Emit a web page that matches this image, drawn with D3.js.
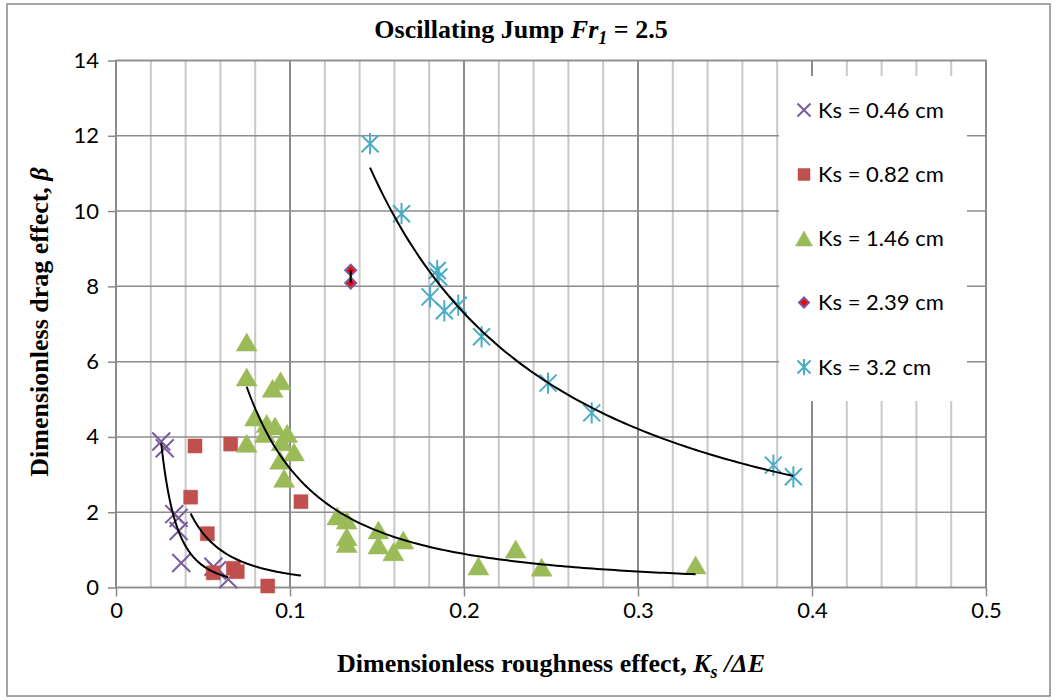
<!DOCTYPE html>
<meta charset="utf-8">
<html>
<head>
<title>Oscillating Jump</title>
<script src="https://d3js.org/d3.v7.min.js"></script>
<style>
  body {margin: 0; background: #fff;}
  .axis text {font-family: Lato, sans-serif; font-size: 22px; fill: #000;}
  .axis line {stroke: #888; stroke-width: 1.5px;}
  .ttl {font-family: "Liberation Serif", serif; font-weight: bold; fill: #000;}
  .leg {font-family: Lato, sans-serif; font-size: 22px; fill: #000;}
</style>
</head>
<body>
<svg id="chart" width="1057" height="700"></svg>
<script>
// tick labels
var xTicks = [0, 0.1, 0.2, 0.3, 0.4, 0.5];
var yTicks = [0, 2, 4, 6, 8, 10, 12, 14];

// Ks = 0.46 cm
var ks046X = [0.026, 0.028, 0.0335, 0.036, 0.036, 0.0375, 0.056, 0.058, 0.0645];
var ks046Y = [3.88, 3.70, 1.95, 1.85, 1.5, 0.65, 0.55, 0.45, 0.22];
// Ks = 0.82 cm
var ks082X = [0.0454, 0.0659, 0.0429, 0.0525, 0.0559, 0.0674, 0.0697, 0.0872, 0.1063];
var ks082Y = [3.76, 3.81, 2.40, 1.43, 0.39, 0.51, 0.42, 0.04, 2.28];
// Ks = 1.46 cm
var ks146X = [0.0751, 0.0751, 0.090, 0.0946, 0.0799, 0.0866, 0.0914, 0.0856, 0.0984, 0.0751, 0.0952, 0.1023, 0.0943, 0.0966,
              0.1272, 0.1326, 0.1326, 0.1326, 0.1508, 0.1508, 0.1594, 0.1651, 0.2083, 0.2297, 0.2446, 0.3331];
var ks146Y = [6.52, 5.59, 5.29, 5.49, 4.53, 4.36, 4.29, 4.09, 4.09, 3.83, 3.87, 3.60, 3.38, 2.90,
              1.90, 1.79, 1.35, 1.17, 1.53, 1.13, 0.95, 1.26, 0.57, 1.02, 0.54, 0.60];
// Ks = 2.39 cm
var ks239X = [0.1349, 0.1349];
var ks239Y = [8.43, 8.09];
// Ks = 3.2 cm
var ks320X = [0.146, 0.1641, 0.1846, 0.1855, 0.1805, 0.1887, 0.1967, 0.2101, 0.2483, 0.2734, 0.3778, 0.3893];
var ks320Y = [11.79, 9.93, 8.42, 8.25, 7.72, 7.35, 7.50, 6.66, 5.43, 4.64, 3.25, 2.94];

var legendLabels = ["Ks = 0.46 cm", "Ks = 0.82 cm", "Ks = 1.46 cm", "Ks = 2.39 cm", "Ks = 3.2 cm"];

var svg = d3.select("#chart"),
    margin = {top: 60.5, left: 116, right: 71, bottom: 112.5},
    width = 1057 - margin.left - margin.right,
    height = 700 - margin.top - margin.bottom;

var x = d3.scaleLinear().domain([0, 0.5]).range([0, width]),
    y = d3.scaleLinear().domain([0, 14]).range([height, 0]);

// chart frame
svg.append("rect")
    .attr("x", 7).attr("y", 4).attr("width", 1043).attr("height", 692)
    .attr("fill", "#fff").attr("stroke", "#888").attr("stroke-width", 1.5);

var g = svg.append("g")
    .attr("transform", "translate(" + margin.left + "," + margin.top + ")");

// grid
g.selectAll(".vminor").data(x.ticks(25))
  .enter().append("line")
    .attr("x1", x).attr("x2", x).attr("y1", 0).attr("y2", height)
    .attr("stroke", function(d) { return xTicks.indexOf(Math.round(d * 100) / 100) >= 0 ? "#8c8c8c" : "#c8c8c8"; })
    .attr("stroke-width", 2);

g.selectAll(".hgrid").data(yTicks)
  .enter().append("line")
    .attr("x1", 0).attr("x2", width).attr("y1", y).attr("y2", y)
    .attr("stroke", "#8c8c8c").attr("stroke-width", 1.5);

g.append("rect")
    .attr("width", width).attr("height", height)
    .attr("fill", "none").attr("stroke", "#8c8c8c").attr("stroke-width", 1.5);

// axes
g.append("g")
    .attr("class", "axis")
    .attr("transform", "translate(0," + height + ")")
    .call(d3.axisBottom(x).tickValues(xTicks).tickSize(9).tickPadding(6).tickFormat(function(d) { return d; }))
    .call(function(s) { s.select(".domain").remove(); });

g.append("g")
    .attr("class", "axis")
    .call(d3.axisLeft(y).tickValues(yTicks).tickSize(8).tickPadding(9))
    .call(function(s) { s.select(".domain").remove(); });

// legend box (covers the grid)
var legX = 779 - margin.left, legY = 76 - margin.top;
g.append("rect")
    .attr("x", legX).attr("y", legY).attr("width", 188).attr("height", 325)
    .attr("fill", "#fff");

// marker shapes
function xMark(s) { return "M" + (-s) + "," + (-s) + "L" + s + "," + s + "M" + (-s) + "," + s + "L" + s + "," + (-s); }
function starMark(s) { return xMark(s) + "M0," + (-s * 1.25) + "L0," + (s * 1.25); }
function triMark(w, h) { return "M0," + (-h / 2) + "L" + (w / 2) + "," + (h / 2) + "L" + (-w / 2) + "," + (h / 2) + "Z"; }
function sqMark(s) { return "M" + (-s) + "," + (-s) + "h" + (2 * s) + "v" + (2 * s) + "h" + (-2 * s) + "Z"; }
function diaMark(s) { return "M0," + (-s) + "L" + s + ",0L0," + s + "L" + (-s) + ",0Z"; }

function pts(xs, ys) { return xs.map(function(v, i) { return [v, ys[i]]; }); }

// power trend line (least squares in log space, as the spreadsheet does)
function powerFit(xs, ys) {
  var lx = xs.map(Math.log), ly = ys.map(Math.log);
  var mx = d3.mean(lx), my = d3.mean(ly), sxy = 0, sxx = 0;
  lx.forEach(function(v, i) { sxy += (v - mx) * (ly[i] - my); sxx += (v - mx) * (v - mx); });
  var b = sxy / sxx, a = Math.exp(my - b * mx);
  var lo = d3.min(xs), hi = d3.max(xs);
  return d3.range(101).map(function(i) { var xv = lo + (hi - lo) * i / 100; return [xv, a * Math.pow(xv, b)]; });
}

var line = d3.line()
    .x(function(d) { return x(d[0]); })
    .y(function(d) { return y(d[1]); });

var series = [
  {xs: ks046X, ys: ks046Y, fit: true},
  {xs: ks082X, ys: ks082Y, fit: true},
  {xs: ks146X, ys: ks146Y, fit: true},
  {xs: ks239X, ys: ks239Y, fit: false},
  {xs: ks320X, ys: ks320Y, fit: true}
];

var styles = [
  {d: xMark(9), fill: "none", stroke: "#7a5c9e", sw: 2, ld: xMark(6.5)},
  {d: sqMark(7), fill: "#c0504d", stroke: "#c0504d", sw: 0.5, ld: sqMark(6)},
  {d: triMark(21, 18), fill: "#9bbb59", stroke: "#9bbb59", sw: 0.5, ld: triMark(17, 15)},
  {d: diaMark(5.5), fill: "#ff0000", stroke: "#7a5c9e", sw: 2, ld: diaMark(5)},
  {d: starMark(8.5), fill: "none", stroke: "#4bacc6", sw: 2, ld: starMark(6.5)}
];

series.forEach(function(s, i) {
  var st = styles[i];
  g.append("g").selectAll("path").data(pts(s.xs, s.ys))
    .enter().append("path")
      .attr("transform", function(d) { return "translate(" + x(d[0]) + "," + y(d[1]) + ")"; })
      .attr("d", st.d)
      .attr("fill", st.fill).attr("stroke", st.stroke).attr("stroke-width", st.sw);
});

// trend lines on top
series.forEach(function(s) {
  var data = s.fit ? powerFit(s.xs, s.ys) : pts(s.xs, s.ys);
  g.append("path")
      .datum(data)
      .attr("fill", "none").attr("stroke", "#000").attr("stroke-width", 2)
      .attr("d", line);
});

// legend
var legRows = [110, 174.5, 238.5, 302.5, 367];
legendLabels.forEach(function(t, i) {
  var st = styles[i];
  svg.append("path")
      .attr("transform", "translate(804," + legRows[i] + ")")
      .attr("d", st.ld)
      .attr("fill", st.fill).attr("stroke", st.stroke).attr("stroke-width", st.sw);
  svg.append("text")
      .attr("class", "leg")
      .attr("x", 818).attr("y", legRows[i]).attr("dy", "0.35em")
      .text(t);
});

// titles
var title = svg.append("text").attr("class", "ttl")
    .attr("x", 521).attr("y", 38).attr("text-anchor", "middle").style("font-size", "26px");
title.append("tspan").text("Oscillating Jump ");
title.append("tspan").style("font-style", "italic").text("Fr");
title.append("tspan").style("font-style", "italic").style("font-size", "18px").attr("dy", 6).text("1");
title.append("tspan").attr("dy", -6).text(" = 2.5");

var xl = svg.append("text").attr("class", "ttl")
    .attr("x", 551).attr("y", 672).attr("text-anchor", "middle").style("font-size", "26px");
xl.append("tspan").text("Dimensionless roughness effect, ");
xl.append("tspan").style("font-style", "italic").text("K");
xl.append("tspan").style("font-style", "italic").style("font-size", "18px").attr("dy", 6).text("s");
xl.append("tspan").style("font-style", "italic").attr("dy", -6).text(" /\u0394E");

var yl = svg.append("text").attr("class", "ttl")
    .attr("transform", "translate(48,322) rotate(-90)")
    .attr("text-anchor", "middle").style("font-size", "26px");
yl.append("tspan").text("Dimensionless drag effect, ");
yl.append("tspan").style("font-style", "italic").text("\u03b2");
</script>
</body>
</html>
